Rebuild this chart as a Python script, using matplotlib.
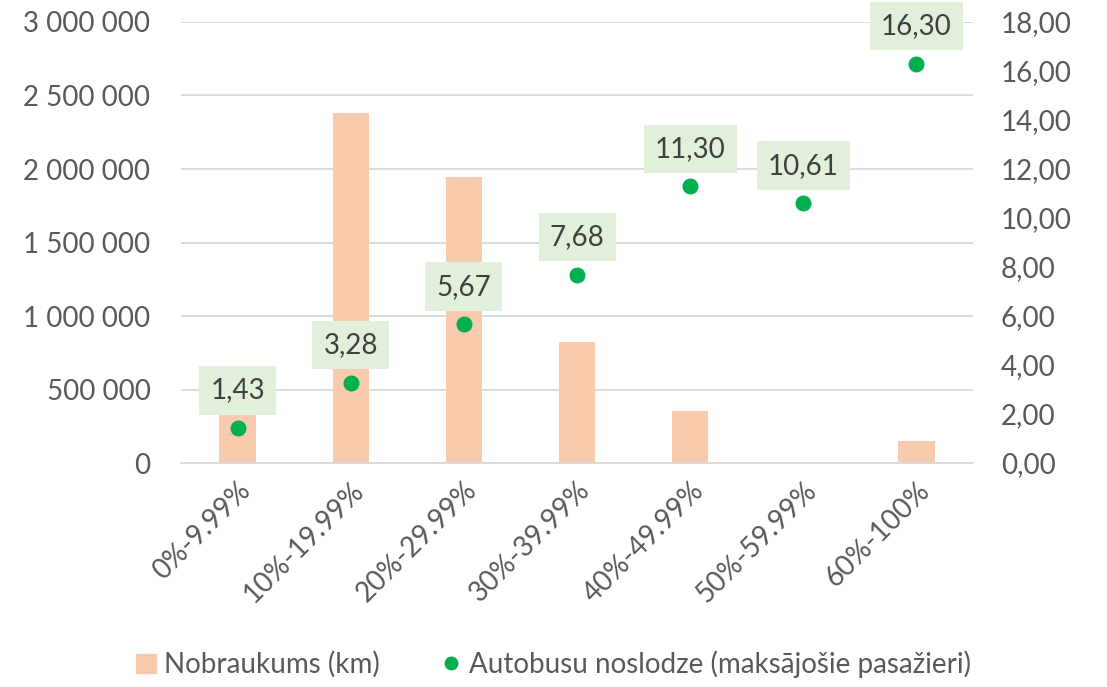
import numpy as np
import matplotlib.pyplot as plt
from matplotlib.lines import Line2D
from matplotlib.patches import Patch
from matplotlib.ticker import FuncFormatter

plt.rcParams['font.family'] = ['Lato', 'DejaVu Sans']

categories = ['0%-9.99%', '10%-19.99%', '20%-29.99%', '30%-39.99%',
              '40%-49.99%', '50%-59.99%', '60%-100%']
nobraukums = [340000, 2380000, 1945000, 825000, 355000, 0, 150000]
noslodze = [1.43, 3.28, 5.67, 7.68, 11.30, 10.61, 16.30]

grey = '#595959'
bar_col = '#F8CBAD'
dot_col = '#00B050'
box_col = '#E2EFDA'

fig = plt.figure(figsize=(11.07, 6.87), dpi=100)
ax = fig.add_axes([0.1635, 0.326, 0.7155, 0.642])
ax2 = ax.twinx()

x = np.arange(len(categories))
ax.bar(x, nobraukums, width=0.32, color=bar_col, zorder=2)
ax.set_ylim(0, 3000000)
ax.set_yticks(np.arange(0, 3000001, 500000))
ax.yaxis.set_major_formatter(FuncFormatter(lambda v, p: f'{int(v):,}'.replace(',', ' ')))
ax.grid(axis='y', color='#D9D9D9', linewidth=1.3, zorder=0)
ax.set_axisbelow(True)
ax.set_xlim(-0.5, len(categories) - 0.5)
ax.set_xticks(x)
ax.set_xticklabels(categories, rotation=45, ha='right', rotation_mode='anchor')

ax2.scatter(x, noslodze, s=110, color=dot_col, zorder=4)
ax2.set_ylim(0, 18)
ax2.set_yticks(np.arange(0, 18.1, 2))
ax2.yaxis.set_major_formatter(FuncFormatter(lambda v, p: f'{v:.2f}'.replace('.', ',')))

for xi, v in zip(x, noslodze):
    ax2.annotate(f'{v:.2f}'.replace('.', ','), (xi, v), xytext=(0, 27),
                 textcoords='offset points', ha='center', va='center',
                 fontsize=20, color='#404040', zorder=5,
                 bbox=dict(boxstyle='square,pad=0.4', fc=box_col, ec='none'))

for a in (ax, ax2):
    for s in a.spines.values():
        s.set_visible(False)
    a.tick_params(length=0, labelsize=20, labelcolor=grey)
ax.spines['bottom'].set_visible(True)
ax.spines['bottom'].set_color('#D9D9D9')
ax.spines['bottom'].set_linewidth(1.3)
ax.tick_params(axis='x', pad=10)
ax.tick_params(axis='y', pad=22)
ax2.tick_params(axis='y', pad=20)

handles = [Patch(color=bar_col),
           Line2D([], [], marker='o', linestyle='none', color=dot_col, markersize=9)]
fig.legend(handles, ['Nobraukums (km)', 'Autobusu noslodze (maksājošie pasažieri)'],
           loc='center', bbox_to_anchor=(0.5, 0.033), ncol=2, frameon=False,
           fontsize=20, labelcolor=grey, handlelength=0.7, handletextpad=0.3,
           columnspacing=2.2)

fig.savefig('out.png', dpi=100)
